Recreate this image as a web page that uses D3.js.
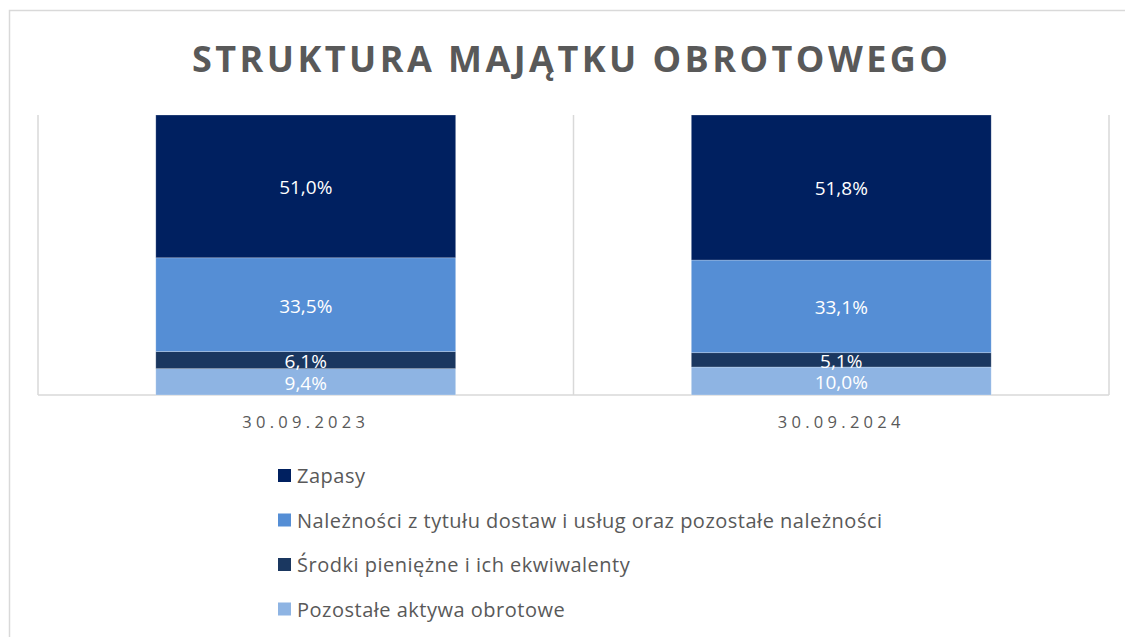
<!DOCTYPE html>
<html>
	<head>
		<meta charset="utf-8">
		<title>Struktura majątku obrotowego</title>
		<style>
			body { margin: 0; background: #fff; }
			text { font-family: "Open Sans", "Liberation Sans", sans-serif; }
		</style>
	</head>
	<body>
	<div id="chart"></div>
		<script src="https://cdn.jsdelivr.net/npm/d3@7/dist/d3.min.js"></script>

		<script>
			// data
			var categories = ['30.09.2023', '30.09.2024'];
			var seriesNames = ['Zapasy', 'Należności z tytułu dostaw i usług oraz pozostałe należności', 'Środki pieniężne i ich ekwiwalenty', 'Pozostałe aktywa obrotowe'];
			var zapasy = [51.0, 51.8];
			var naleznosci = [33.5, 33.1];
			var srodki = [6.1, 5.1];
			var pozostale = [9.4, 10.0];
			var colors = ['#002060', '#558ed5', '#1a3760', '#8eb4e3'];

			var W = 1125, H = 637;
			var svg = d3.select('#chart').append('svg').attr('width', W).attr('height', H);

			// outer chart border
			svg.append('rect').attr('x', 9.5).attr('y', 10.5).attr('width', W + 10).attr('height', H + 10)
				.attr('fill', 'none').attr('stroke', '#d9d9d9').attr('stroke-width', 1.5);

			svg.append('text').attr('x', 570).attr('y', 72).attr('text-anchor', 'middle')
				.attr('font-size', 36).attr('font-weight', 'bold').attr('fill', '#595959')
				.attr('textLength', 756).attr('lengthAdjust', 'spacing')
				.text('STRUKTURA MAJĄTKU OBROTOWEGO');

			var plotLeft = 38, plotRight = 1109, plotTop = 115, plotBottom = 395;

			var x = d3.scaleBand().domain(categories).range([plotLeft, plotRight]).paddingInner(0).paddingOuter(0);
			var y = d3.scaleLinear().domain([0, 100]).range([plotBottom, plotTop]);

			// stack from bottom: pozostale, srodki, naleznosci, zapasy
			var rows = categories.map(function(c, i) {
				return { cat: c, z: zapasy[i], n: naleznosci[i], s: srodki[i], p: pozostale[i] };
			});
			var keys = ['p', 's', 'n', 'z'];
			var keyColor = { z: colors[0], n: colors[1], s: colors[2], p: colors[3] };
			var stacked = d3.stack().keys(keys)(rows);

			// plot frame lines
			var grid = svg.append('g').attr('stroke', '#d9d9d9').attr('stroke-width', 1.5);
			[plotLeft, x(categories[1]), plotRight].forEach(function(v) {
				grid.append('line').attr('x1', v).attr('x2', v).attr('y1', plotTop).attr('y2', plotBottom);
			});

			var barW = x.bandwidth() * 0.56;
			var layers = svg.append('g').selectAll('g').data(stacked).join('g')
				.attr('fill', function(d) { return keyColor[d.key]; });

			layers.selectAll('rect').data(function(d) { return d; }).join('rect')
				.attr('x', function(d) { return x(d.data.cat) + (x.bandwidth() - barW) / 2; })
				.attr('y', function(d) { return y(d[1]); })
				.attr('width', barW)
				.attr('height', function(d) { return y(d[0]) - y(d[1]); })
				.attr('stroke', 'rgba(255,255,255,0.35)').attr('stroke-width', 0.7);

			layers.selectAll('text').data(function(d) { return d; }).join('text')
				.attr('x', function(d) { return x(d.data.cat) + x.bandwidth() / 2; })
				.attr('y', function(d) { return (y(d[0]) + y(d[1])) / 2 + 1; })
				.attr('dy', '0.36em')
				.attr('text-anchor', 'middle').attr('font-size', 19).attr('fill', '#fff')
				.text(function(d) { return d3.format('.1f')(d[1] - d[0]).replace('.', ',') + '%'; });

			grid.append('line').attr('x1', plotLeft).attr('x2', plotRight).attr('y1', plotBottom).attr('y2', plotBottom);

			var xAxis = svg.append('g').attr('transform', 'translate(0,' + plotBottom + ')')
				.call(d3.axisBottom(x).tickSize(0).tickPadding(21));
			xAxis.select('.domain').remove();
			xAxis.selectAll('text').attr('font-size', 16.5).attr('fill', '#595959')
				.attr('letter-spacing', '4.3px').attr('font-family', '"Open Sans", sans-serif');

			// legend
			var legend = svg.append('g').selectAll('g').data(seriesNames).join('g')
				.attr('transform', function(d, i) { return 'translate(278,' + (469 + i * 44.5) + ')'; });
			legend.append('rect').attr('width', 13).attr('height', 13)
				.attr('fill', function(d, i) { return colors[i]; });
			legend.append('text').attr('x', 19).attr('y', 7).attr('dy', '0.36em')
				.attr('font-size', 20).attr('letter-spacing', '0.5px')
				.attr('fill', '#595959').text(function(d) { return d; });
		</script>
	</body>
</html>
